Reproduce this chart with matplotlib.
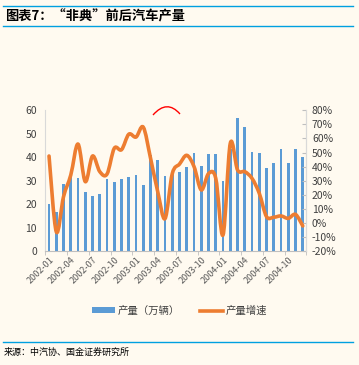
import matplotlib
matplotlib.use("Agg")
import matplotlib.pyplot as plt
import numpy as np
from matplotlib.path import Path
from matplotlib.patches import PathPatch, Patch
from matplotlib.lines import Line2D

plt.rcParams['font.family'] = ['Noto Sans CJK SC', 'DejaVu Sans']

# monthly car production 2002-01 .. 2004-12 (10k units) and yoy growth (%)
months = [f"{y}-{m:02d}" for y in (2002, 2003, 2004) for m in range(1, 13)]
output = [20.0, 16.6, 28.6, 32.2, 31.0, 25.1, 23.4, 24.3, 30.7, 29.4, 30.6, 31.4,
          32.6, 28.0, 41.0, 38.8, 32.0, 33.6, 33.6, 36.0, 41.7, 36.3, 41.2, 41.2,
          30.0, 43.7, 56.6, 53.0, 42.4, 41.7, 35.3, 37.4, 43.5, 37.4, 43.5, 40.2]
growth = [47.5, -6.3, 18.6, 34.0, 56.0, 29.3, 47.5, 36.4, 34.7, 53.0, 52.0, 63.0,
          61.0, 68.0, 46.0, 22.0, 3.0, 35.0, 41.8, 48.0, 40.0, 23.4, 35.0, 31.6,
          -8.6, 56.5, 37.6, 36.4, 31.6, 21.0, 4.4, 4.0, 4.9, 3.2, 6.0, -2.2]
tick_idx = list(range(0, 36, 3))

BG = "#FFFAF0"
BLUE = "#5B9BD5"
ORANGE = "#ED7D31"
RULE = "#00A0E0"

fig = plt.figure(figsize=(3.59, 3.65), dpi=100, facecolor=BG)
ax = fig.add_axes([45.4 / 359, 1 - 251 / 365, 261 / 359, 140.7 / 365])
ax.set_facecolor(BG)
x = np.arange(len(output))
ax.bar(x, output, width=0.36, color=BLUE, zorder=2)
ax.set_xlim(-0.5, 35.5)
ax.set_ylim(0, 60)
ax.set_yticks(range(0, 61, 10))
ax.tick_params(axis="y", length=0, labelsize=7.5, colors="#404040", pad=6)
ax.set_xticks([i for i in tick_idx])
ax.set_xticklabels([months[i] for i in tick_idx], rotation=45, ha="right",
                   rotation_mode="anchor", fontsize=6.5, color="#595959")
ax.set_xticks([i - 0.5 for i in range(0, 37, 3)], minor=True)
ax.tick_params(axis="x", which="major", length=0, pad=3)
ax.tick_params(axis="x", which="minor", length=3, color="#BFBFBF")
for s in ("top",):
    ax.spines[s].set_visible(False)
ax.spines["left"].set_color("#D9D9D9")
ax.spines["right"].set_color("#D9D9D9")
ax.spines["bottom"].set_color("#BFBFBF")

ax2 = ax.twinx()
ax2.set_ylim(-20, 80)
ax2.set_yticks(range(-20, 81, 10))
ax2.set_yticklabels([f"{v}%" for v in range(-20, 81, 10)])
ax2.tick_params(axis="y", direction="in", length=3, color="#BFBFBF",
                labelsize=7.5, colors="#404040", pad=4)
ax2.tick_params(axis="y", color="#BFBFBF")
for s in ("top", "left", "bottom"):
    ax2.spines[s].set_visible(False)
ax2.spines["right"].set_color("#D9D9D9")

# smoothed growth line (Catmull-Rom through the monthly points)
pts = np.column_stack([x, growth]).astype(float)
verts = [pts[0]]
codes = [Path.MOVETO]
n = len(pts)
for i in range(n - 1):
    p0 = pts[max(i - 1, 0)]
    p1 = pts[i]
    p2 = pts[i + 1]
    p3 = pts[min(i + 2, n - 1)]
    verts += [p1 + (p2 - p0) / 6, p2 - (p3 - p1) / 6, p2]
    codes += [Path.CURVE4] * 3
ax2.add_patch(PathPatch(Path(verts, codes), facecolor="none", edgecolor=ORANGE,
                        lw=2.6, capstyle="round", joinstyle="round", zorder=3))

# red hand-drawn arc above the chart
fig.add_artist(PathPatch(Path([(153 / 359, 1 - 115 / 365), (167 / 359, 1 - 99 / 365),
                               (180 / 359, 1 - 114 / 365)],
                              [Path.MOVETO, Path.CURVE3, Path.CURVE3]),
                         facecolor="none", edgecolor="red", lw=1.0,
                         transform=fig.transFigure))

# legend
handles = [Patch(facecolor=BLUE, edgecolor="none"),
           Line2D([0], [0], color=ORANGE, lw=2.6)]
fig.legend(handles, ["产量（万辆）", "产量增速"], loc="center",
           bbox_to_anchor=(0.5, 1 - 311 / 365), ncol=2, frameon=False,
           fontsize=7.5, handlelength=2.2, handleheight=0.5, columnspacing=2.0,
           handletextpad=0.2, labelcolor="#404040")

# title band and source
for yy in (5.5, 26, 342):
    fig.add_artist(Line2D([3 / 359, 353 / 359], [1 - yy / 365] * 2, color=RULE,
                          lw=1.0, transform=fig.transFigure))
fig.text(5 / 359, 1 - 16 / 365, "图表7：“非典”前后汽车产量", fontsize=9.5,
         fontweight="bold", style="italic", va="center", ha="left")
fig.text(4 / 359, 1 - 352 / 365, "来源：中汽协、国金证券研究所", fontsize=6.5,
         va="center", ha="left")

fig.savefig("out.png", dpi=100, facecolor=BG)
